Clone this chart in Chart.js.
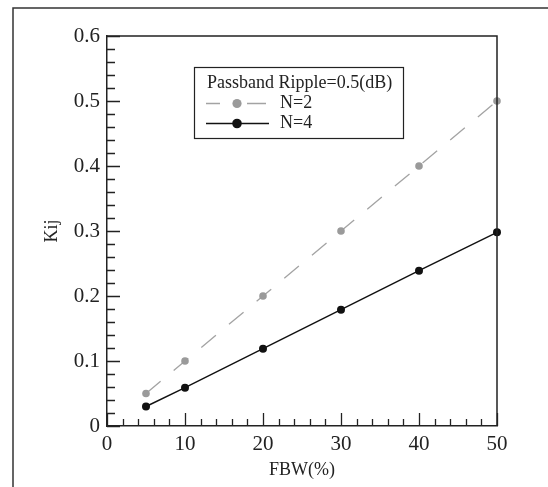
<!DOCTYPE html>
<html lang="en">
<head>
  <meta charset="UTF-8" />
  <title>Kij vs FBW</title>
  <script src="https://cdn.jsdelivr.net/npm/chart.js@4.4.0/dist/chart.umd.min.js"></script>
  <style>
    html, body { margin: 0; padding: 0; background: #fff; }
    canvas { display: block; }
  </style>
</head>
<body>
  <canvas id="kijChart" width="548" height="487"></canvas>

  <script>
    // coupling coefficient vs fractional bandwidth
    const fbw = [5, 10, 20, 30, 40, 50];
    const kijN2 = [0.05, 0.10, 0.20, 0.30, 0.40, 0.50];
    const kijN4 = [0.03, 0.059, 0.119, 0.179, 0.239, 0.298];
    const seriesLabels = ['N=2', 'N=4'];
    const legendTitle = 'Passband Ripple=0.5(dB)';
    const xTitle = 'FBW(%)';
    const yTitle = 'Kij';

    const SERIF = '"Liberation Serif", "DejaVu Serif", serif';
    const INK = '#222';

    // outer frame, plot box top/right edges, inward ticks
    const framePlugin = {
      id: 'frame',
      beforeDraw(chart) {
        const ctx = chart.ctx;
        ctx.save();
        ctx.fillStyle = '#fff';
        ctx.fillRect(0, 0, chart.width, chart.height);
        ctx.strokeStyle = '#333';
        ctx.lineWidth = 1.5;
        ctx.beginPath();
        ctx.moveTo(13, chart.height);
        ctx.lineTo(13, 8);
        ctx.lineTo(chart.width, 8);
        ctx.stroke();
        ctx.restore();
      },
      afterDatasetsDraw(chart) {
        const { ctx, chartArea: a, scales } = chart;
        ctx.save();
        ctx.strokeStyle = INK;
        ctx.lineWidth = 1.5;
        ctx.beginPath();
        ctx.moveTo(a.left, a.top);
        ctx.lineTo(a.right, a.top);
        ctx.lineTo(a.right, a.bottom);
        ctx.stroke();

        ctx.lineWidth = 1.3;
        ctx.beginPath();
        // y ticks: major every 0.1, minor every 0.02
        for (let i = 0; i <= 30; i++) {
          const y = Math.round(scales.y.getPixelForValue(i * 0.02)) + 0.5;
          const len = i % 5 === 0 ? 13 : 8;
          ctx.moveTo(a.left, y);
          ctx.lineTo(a.left + len, y);
        }
        // x ticks: major every 10, minor every 2
        for (let i = 0; i <= 25; i++) {
          const x = Math.round(scales.x.getPixelForValue(i * 2)) + 0.5;
          const len = i % 5 === 0 ? 13 : 7;
          ctx.moveTo(x, a.bottom);
          ctx.lineTo(x, a.bottom - len);
        }
        ctx.stroke();
        ctx.restore();
      }
    };

    // boxed legend inside the plot
    const boxLegend = {
      id: 'boxLegend',
      afterDraw(chart) {
        const ctx = chart.ctx;
        const box = { left: 194, top: 67, right: 403, bottom: 138 };
        ctx.save();
        ctx.fillStyle = '#fff';
        ctx.fillRect(box.left, box.top, box.right - box.left, box.bottom - box.top);
        ctx.strokeStyle = INK;
        ctx.lineWidth = 1.2;
        ctx.strokeRect(box.left + 0.5, box.top + 0.5, box.right - box.left, box.bottom - box.top);

        ctx.fillStyle = INK;
        ctx.font = '18px ' + SERIF;
        ctx.textBaseline = 'middle';
        ctx.fillText(legendTitle, 207, 83);

        chart.data.datasets.forEach((ds, i) => {
          const y = 103.5 + i * 20;
          const mx = 237;
          ctx.strokeStyle = ds.borderColor;
          ctx.lineWidth = ds.borderWidth;
          ctx.beginPath();
          if (ds.borderDash && ds.borderDash.length) {
            ctx.moveTo(206, y); ctx.lineTo(220, y);
            ctx.moveTo(247, y); ctx.lineTo(266, y);
          } else {
            ctx.moveTo(206, y); ctx.lineTo(269, y);
          }
          ctx.stroke();
          ctx.fillStyle = ds.pointBackgroundColor;
          ctx.beginPath();
          ctx.arc(mx, y, ds.pointRadius + 0.8, 0, Math.PI * 2);
          ctx.fill();
          ctx.fillStyle = INK;
          ctx.fillText(ds.label, 280, y);
        });
        ctx.restore();
      }
    };

    new Chart(document.getElementById('kijChart'), {
      type: 'line',
      data: {
        datasets: [
          {
            label: seriesLabels[0],
            data: fbw.map((x, i) => ({ x, y: kijN2[i] })),
            borderColor: '#a3a3a3',
            borderWidth: 1.3,
            borderDash: [19, 17],
            pointRadius: 3.8,
            pointBackgroundColor: '#9a9a9a',
            pointBorderWidth: 0,
            clip: false
          },
          {
            label: seriesLabels[1],
            data: fbw.map((x, i) => ({ x, y: kijN4[i] })),
            borderColor: '#111',
            borderWidth: 1.4,
            pointRadius: 4,
            pointBackgroundColor: '#111',
            pointBorderWidth: 0,
            clip: false
          }
        ]
      },
      options: {
        responsive: false,
        animation: false,
        devicePixelRatio: 1,
        layout: { padding: { left: 0, top: 36, right: 51, bottom: 0 } },
        plugins: {
          legend: { display: false },
          tooltip: { enabled: false }
        },
        scales: {
          x: {
            type: 'linear',
            min: 0,
            max: 50,
            grid: { display: false, drawTicks: false },
            border: { display: true, color: INK, width: 1.5 },
            ticks: {
              stepSize: 10,
              padding: 6,
              maxRotation: 0,
              color: INK,
              font: { family: SERIF, size: 21 }
            },
            title: {
              display: true,
              text: xTitle,
              color: INK,
              font: { family: SERIF, size: 18 },
              padding: { top: 0, bottom: 6 }
            },
            afterFit(scale) { scale.height = 61; }
          },
          y: {
            type: 'linear',
            min: 0,
            max: 0.6,
            grid: { display: false, drawTicks: false },
            border: { display: true, color: INK, width: 1.5 },
            ticks: {
              stepSize: 0.1,
              padding: 7,
              color: INK,
              font: { family: SERIF, size: 21 }
            },
            title: {
              display: true,
              text: yTitle,
              color: INK,
              font: { family: SERIF, size: 18 },
              padding: { top: 41, bottom: 0 }
            },
            afterFit(scale) { scale.width = 107; }
          }
        }
      },
      plugins: [framePlugin, boxLegend]
    });
  </script>
</body>
</html>
